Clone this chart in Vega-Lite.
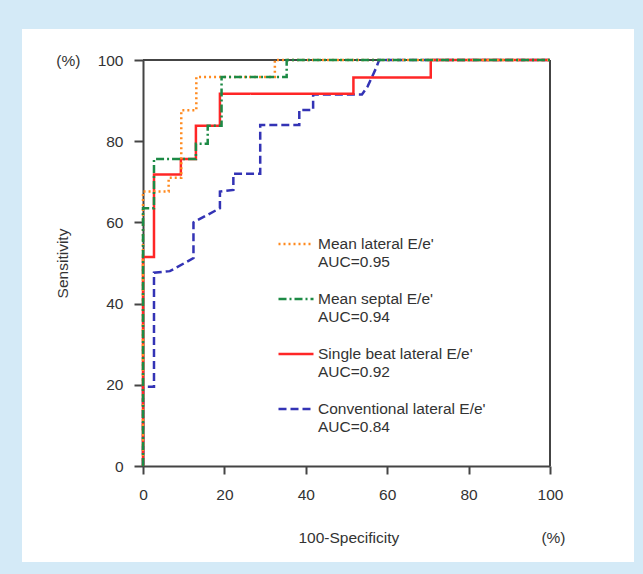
{
  "$schema": "https://vega.github.io/schema/vega-lite/v6.json",
  "width": 612,
  "height": 533,
  "autosize": "none",
  "padding": {"left": 22, "top": 29, "right": 9, "bottom": 12},
  "background": "#d4eaf7",
  "config": {
    "font": "Liberation Sans",
    "view": {"fill": "#ffffff", "stroke": null},
    "axis": {
      "domainColor": "#444444", "domainWidth": 2,
      "tickColor": "#444444", "tickWidth": 2,
      "labelColor": "#333333", "labelFontSize": 15.5, "labelFont": "Liberation Sans",
      "titleColor": "#333333", "titleFontSize": 15.5, "titleFont": "Liberation Sans", "titleFontWeight": "normal",
      "grid": false, "labelFlush": false
    }
  },
  "data": {
    "values": [
      {"curve": "Conventional lateral E/e'|AUC=0.84", "i": 0, "fpr": 0, "sens": 0},
      {"curve": "Conventional lateral E/e'|AUC=0.84", "i": 1, "fpr": 0, "sens": 19.5},
      {"curve": "Conventional lateral E/e'|AUC=0.84", "i": 2, "fpr": 2.7, "sens": 19.5},
      {"curve": "Conventional lateral E/e'|AUC=0.84", "i": 3, "fpr": 2.7, "sens": 47.6},
      {"curve": "Conventional lateral E/e'|AUC=0.84", "i": 4, "fpr": 6.6, "sens": 48.0},
      {"curve": "Conventional lateral E/e'|AUC=0.84", "i": 5, "fpr": 12.4, "sens": 51.2},
      {"curve": "Conventional lateral E/e'|AUC=0.84", "i": 6, "fpr": 12.4, "sens": 60.0},
      {"curve": "Conventional lateral E/e'|AUC=0.84", "i": 7, "fpr": 18.9, "sens": 63.5},
      {"curve": "Conventional lateral E/e'|AUC=0.84", "i": 8, "fpr": 18.9, "sens": 67.6},
      {"curve": "Conventional lateral E/e'|AUC=0.84", "i": 9, "fpr": 22.2, "sens": 68.0},
      {"curve": "Conventional lateral E/e'|AUC=0.84", "i": 10, "fpr": 22.2, "sens": 72.0},
      {"curve": "Conventional lateral E/e'|AUC=0.84", "i": 11, "fpr": 28.8, "sens": 72.0},
      {"curve": "Conventional lateral E/e'|AUC=0.84", "i": 12, "fpr": 28.8, "sens": 84.0},
      {"curve": "Conventional lateral E/e'|AUC=0.84", "i": 13, "fpr": 38.4, "sens": 84.0},
      {"curve": "Conventional lateral E/e'|AUC=0.84", "i": 14, "fpr": 38.4, "sens": 87.7},
      {"curve": "Conventional lateral E/e'|AUC=0.84", "i": 15, "fpr": 41.8, "sens": 87.7},
      {"curve": "Conventional lateral E/e'|AUC=0.84", "i": 16, "fpr": 41.8, "sens": 91.5},
      {"curve": "Conventional lateral E/e'|AUC=0.84", "i": 17, "fpr": 53.8, "sens": 91.5},
      {"curve": "Conventional lateral E/e'|AUC=0.84", "i": 18, "fpr": 55.2, "sens": 93.5},
      {"curve": "Conventional lateral E/e'|AUC=0.84", "i": 19, "fpr": 57.4, "sens": 98.3},
      {"curve": "Conventional lateral E/e'|AUC=0.84", "i": 20, "fpr": 58.0, "sens": 100},
      {"curve": "Conventional lateral E/e'|AUC=0.84", "i": 21, "fpr": 100, "sens": 100},

      {"curve": "Single beat lateral E/e'|AUC=0.92", "i": 0, "fpr": 0, "sens": 0},
      {"curve": "Single beat lateral E/e'|AUC=0.92", "i": 1, "fpr": 0, "sens": 51.5},
      {"curve": "Single beat lateral E/e'|AUC=0.92", "i": 2, "fpr": 2.7, "sens": 51.5},
      {"curve": "Single beat lateral E/e'|AUC=0.92", "i": 3, "fpr": 2.7, "sens": 71.8},
      {"curve": "Single beat lateral E/e'|AUC=0.92", "i": 4, "fpr": 9.3, "sens": 71.8},
      {"curve": "Single beat lateral E/e'|AUC=0.92", "i": 5, "fpr": 9.3, "sens": 75.6},
      {"curve": "Single beat lateral E/e'|AUC=0.92", "i": 6, "fpr": 13.0, "sens": 75.6},
      {"curve": "Single beat lateral E/e'|AUC=0.92", "i": 7, "fpr": 13.0, "sens": 83.8},
      {"curve": "Single beat lateral E/e'|AUC=0.92", "i": 8, "fpr": 18.9, "sens": 83.8},
      {"curve": "Single beat lateral E/e'|AUC=0.92", "i": 9, "fpr": 18.9, "sens": 91.7},
      {"curve": "Single beat lateral E/e'|AUC=0.92", "i": 10, "fpr": 51.7, "sens": 91.7},
      {"curve": "Single beat lateral E/e'|AUC=0.92", "i": 11, "fpr": 51.7, "sens": 95.7},
      {"curve": "Single beat lateral E/e'|AUC=0.92", "i": 12, "fpr": 70.7, "sens": 95.7},
      {"curve": "Single beat lateral E/e'|AUC=0.92", "i": 13, "fpr": 70.7, "sens": 100},
      {"curve": "Single beat lateral E/e'|AUC=0.92", "i": 14, "fpr": 100, "sens": 100},

      {"curve": "Mean lateral E/e'|AUC=0.95", "i": 0, "fpr": 0, "sens": 0},
      {"curve": "Mean lateral E/e'|AUC=0.95", "i": 1, "fpr": 0, "sens": 67.6},
      {"curve": "Mean lateral E/e'|AUC=0.95", "i": 2, "fpr": 6.3, "sens": 67.6},
      {"curve": "Mean lateral E/e'|AUC=0.95", "i": 3, "fpr": 6.3, "sens": 71.0},
      {"curve": "Mean lateral E/e'|AUC=0.95", "i": 4, "fpr": 9.4, "sens": 71.0},
      {"curve": "Mean lateral E/e'|AUC=0.95", "i": 5, "fpr": 9.4, "sens": 87.6},
      {"curve": "Mean lateral E/e'|AUC=0.95", "i": 6, "fpr": 13.1, "sens": 87.6},
      {"curve": "Mean lateral E/e'|AUC=0.95", "i": 7, "fpr": 13.1, "sens": 95.8},
      {"curve": "Mean lateral E/e'|AUC=0.95", "i": 8, "fpr": 32.4, "sens": 95.8},
      {"curve": "Mean lateral E/e'|AUC=0.95", "i": 9, "fpr": 32.4, "sens": 100},
      {"curve": "Mean lateral E/e'|AUC=0.95", "i": 10, "fpr": 100, "sens": 100},

      {"curve": "Mean septal E/e'|AUC=0.94", "i": 0, "fpr": 0, "sens": 0},
      {"curve": "Mean septal E/e'|AUC=0.94", "i": 1, "fpr": 0, "sens": 63.5},
      {"curve": "Mean septal E/e'|AUC=0.94", "i": 2, "fpr": 2.7, "sens": 63.5},
      {"curve": "Mean septal E/e'|AUC=0.94", "i": 3, "fpr": 2.7, "sens": 75.6},
      {"curve": "Mean septal E/e'|AUC=0.94", "i": 4, "fpr": 13.0, "sens": 75.6},
      {"curve": "Mean septal E/e'|AUC=0.94", "i": 5, "fpr": 13.0, "sens": 79.4},
      {"curve": "Mean septal E/e'|AUC=0.94", "i": 6, "fpr": 15.9, "sens": 79.4},
      {"curve": "Mean septal E/e'|AUC=0.94", "i": 7, "fpr": 15.9, "sens": 83.8},
      {"curve": "Mean septal E/e'|AUC=0.94", "i": 8, "fpr": 19.3, "sens": 83.8},
      {"curve": "Mean septal E/e'|AUC=0.94", "i": 9, "fpr": 19.3, "sens": 95.8},
      {"curve": "Mean septal E/e'|AUC=0.94", "i": 10, "fpr": 35.3, "sens": 95.8},
      {"curve": "Mean septal E/e'|AUC=0.94", "i": 11, "fpr": 35.3, "sens": 100},
      {"curve": "Mean septal E/e'|AUC=0.94", "i": 12, "fpr": 100, "sens": 100}
    ]
  },
  "layer": [
    {
      "mark": {"type": "rule", "color": "#444444", "strokeWidth": 2},
      "encoding": {
        "x": {"datum": 0, "type": "quantitative"},
        "x2": {"datum": 100},
        "y": {"datum": 100, "type": "quantitative"}
      }
    },
    {
      "mark": {"type": "rule", "color": "#444444", "strokeWidth": 2},
      "encoding": {
        "x": {"datum": 100, "type": "quantitative"},
        "y": {"datum": 0, "type": "quantitative"},
        "y2": {"datum": 100}
      }
    },
    {
      "encoding": {
        "x": {
          "field": "fpr", "type": "quantitative",
          "scale": {"domain": [0, 100], "range": [121, 528], "nice": false, "zero": false},
          "axis": {
            "offset": -96, "values": [0, 20, 40, 60, 80, 100], "tickSize": 8, "labelPadding": 13,
            "title": "100-Specificity\u00a0\u00a0\u00a0\u00a0\u00a0\u00a0\u00a0\u00a0\u00a0\u00a0\u00a0\u00a0\u00a0\u00a0\u00a0\u00a0\u00a0\u00a0\u00a0\u00a0\u00a0\u00a0\u00a0\u00a0\u00a0\u00a0\u00a0\u00a0\u00a0\u00a0\u00a0\u00a0\u00a0(%)",
            "titleX": 543, "titleY": 71, "titleAlign": "right", "titleBaseline": "middle"
          }
        },
        "y": {
          "field": "sens", "type": "quantitative",
          "scale": {"domain": [0, 100], "range": [437, 31], "nice": false, "zero": false},
          "axis": {
            "offset": -121, "values": [0, 20, 40, 60, 80, 100], "tickSize": 9, "labelPadding": 11,
            "labelExpr": "datum.value == 100 ? '(%)\u00a0\u00a0\u00a0\u00a0100' : datum.label",
            "title": "Sensitivity", "titleX": -81, "titleBaseline": "middle"
          }
        },
        "order": {"field": "i", "type": "quantitative"},
        "color": {
          "field": "curve", "type": "nominal",
          "scale": {
            "domain": ["Mean lateral E/e'|AUC=0.95", "Mean septal E/e'|AUC=0.94", "Single beat lateral E/e'|AUC=0.92", "Conventional lateral E/e'|AUC=0.84"],
            "range": ["#ff8a1f", "#1c8a45", "#ff2626", "#3333b5"]
          },
          "legend": {
            "orient": "none", "legendX": 255, "legendY": 196, "title": null,
            "labelExpr": "split(datum.label, '|')",
            "symbolType": "stroke", "symbolSize": 1225, "symbolStrokeWidth": 2.5,
            "labelFontSize": 15.5, "labelColor": "#333333", "labelFont": "Liberation Sans",
            "labelOffset": 3, "rowPadding": 10, "padding": 0, "labelLimit": 300, "labelBaseline": "middle"
          }
        },
        "strokeDash": {
          "field": "curve", "type": "nominal",
          "scale": {
            "domain": ["Mean lateral E/e'|AUC=0.95", "Mean septal E/e'|AUC=0.94", "Single beat lateral E/e'|AUC=0.92", "Conventional lateral E/e'|AUC=0.84"],
            "range": [[2, 3], [8, 3, 2, 3], [1, 0], [8, 4]]
          },
          "legend": {
            "orient": "none", "legendX": 255, "legendY": 196, "title": null,
            "labelExpr": "split(datum.label, '|')",
            "symbolType": "stroke", "symbolSize": 1225, "symbolStrokeWidth": 2.5,
            "labelFontSize": 15.5, "labelColor": "#333333", "labelFont": "Liberation Sans",
            "labelOffset": 3, "rowPadding": 10, "padding": 0, "labelLimit": 300, "labelBaseline": "middle"
          }
        }
      },
      "layer": [
        {"transform": [{"filter": {"field": "curve", "equal": "Conventional lateral E/e'|AUC=0.84"}}], "mark": {"type": "line", "strokeWidth": 2.5}},
        {"transform": [{"filter": {"field": "curve", "equal": "Single beat lateral E/e'|AUC=0.92"}}], "mark": {"type": "line", "strokeWidth": 2.5}},
        {"transform": [{"filter": {"field": "curve", "equal": "Mean lateral E/e'|AUC=0.95"}}], "mark": {"type": "line", "strokeWidth": 2.5}},
        {"transform": [{"filter": {"field": "curve", "equal": "Mean septal E/e'|AUC=0.94"}}], "mark": {"type": "line", "strokeWidth": 2.5}}
      ]
    }
  ]
}
